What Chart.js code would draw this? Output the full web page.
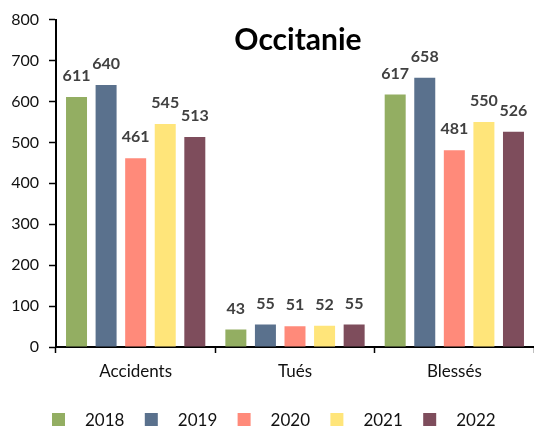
<!DOCTYPE html>
<html><head><meta charset="utf-8">
<script src="https://cdn.jsdelivr.net/npm/chart.js@4"></script>
<style>html,body{margin:0;padding:0;background:#fff}#wrap{width:534px;height:426px}</style>
</head><body><div id="wrap"><canvas id="c" width="534" height="426"></canvas></div>
<script>
const categories = ["Accidents", "Tués", "Blessés"];
const years = ["2018", "2019", "2020", "2021", "2022"];
const v2018 = [611, 43, 617];
const v2019 = [640, 55, 658];
const v2020 = [461, 51, 481];
const v2021 = [545, 52, 550];
const v2022 = [513, 55, 526];
const yTicks = [0, 100, 200, 300, 400, 500, 600, 700, 800];
const titleText = "Occitanie";
const colors = ["#93AE62", "#5A718D", "#FF8A7A", "#FFE57A", "#7E4D5C"];
const series = [v2018, v2019, v2020, v2021, v2022];
const FONT = "Lato, 'Open Sans', sans-serif";

const labelPlugin = {
  id: 'labels',
  afterDatasetsDraw(chart) {
    const ctx = chart.ctx;
    ctx.save();
    ctx.font = "bold 16px " + FONT;
    ctx.fillStyle = "#404040";
    ctx.textAlign = "center";
    ctx.textBaseline = "middle";
    chart.data.datasets.forEach((ds, di) => {
      chart.getDatasetMeta(di).data.forEach((bar, i) => {
        ctx.fillText(String(ds.data[i]), bar.x, bar.y - 21);
      });
    });
    ctx.restore();
  },
  afterDraw(chart) {
    const ctx = chart.ctx;
    ctx.save();
    ctx.font = "bold 30px " + FONT;
    ctx.fillStyle = "#000";
    ctx.textAlign = "center";
    ctx.textBaseline = "middle";
    ctx.fillText(titleText, 298, 40);
    ctx.font = "17px " + FONT;
    ctx.textAlign = "left";
    chart.data.datasets.forEach((ds, di) => {
      const x0 = 52 + di * 92.8;
      ctx.fillStyle = ds.backgroundColor;
      ctx.fillRect(x0, 413, 13, 13);
      ctx.fillStyle = "#111";
      ctx.fillText(ds.label, x0 + 33, 421);
    });
    ctx.restore();
  }
};

new Chart(document.getElementById('c'), {
  type: 'bar',
  data: {
    labels: categories,
    datasets: years.map((y, i) => ({
      label: y, data: series[i], backgroundColor: colors[i],
      categoryPercentage: 0.928, barPercentage: 0.71
    }))
  },
  options: {
    responsive: false, animation: false,
    layout: { padding: { top: 19, left: 0, right: 0, bottom: 39 } },
    plugins: { legend: { display: false }, tooltip: { enabled: false }, title: { display: false } },
    scales: {
      x: {
        afterFit(s) { s.height = 40; },
        grid: { display: true, drawOnChartArea: false, offset: true, tickLength: 6, color: "#000", tickWidth: 1.5 },
        border: { display: true, color: "#000", width: 2 },
        ticks: { color: "#111", font: { family: FONT, size: 17 }, padding: 8 }
      },
      y: {
        min: 0, max: 800,
        afterFit(s) { s.width = 56; },
        afterBuildTicks(s) { s.ticks = yTicks.map(v => ({ value: v })); },
        grid: { display: true, drawOnChartArea: false, tickLength: 7, color: "#000", tickWidth: 1.5 },
        border: { display: true, color: "#000", width: 2 },
        ticks: { color: "#111", font: { family: FONT, size: 16 }, padding: 10 }
      }
    }
  },
  plugins: [labelPlugin]
});
</script></body></html>
